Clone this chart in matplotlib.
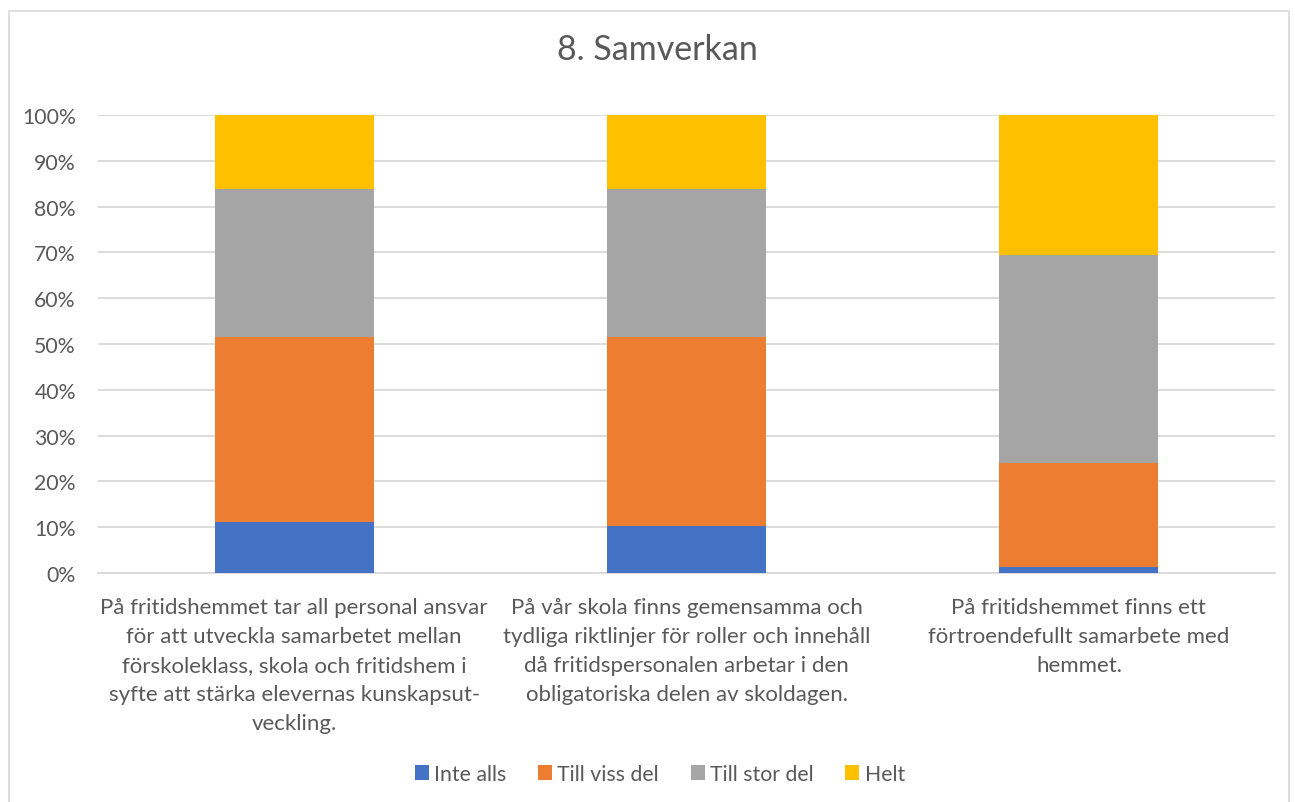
import matplotlib.pyplot as plt
from matplotlib.patches import Rectangle
import numpy as np

# ── Data ──────────────────────────────────────────────────────────────────────
title = "8. Samverkan"
categories = [
    "På fritidshemmet tar all personal ansvar\nför att utveckla samarbetet mellan\n"
    "förskoleklass, skola och fritidshem i\nsyfte att stärka elevernas kunskapsut-\nveckling.",
    "På vår skola finns gemensamma och\ntydliga riktlinjer för roller och innehåll\n"
    "då fritidspersonalen arbetar i den\nobligatoriska delen av skoldagen.",
    "På fritidshemmet finns ett\nförtroendefullt samarbete med\nhemmet.",
]
series_names = ["Inte alls", "Till viss del", "Till stor del", "Helt"]
inte_alls = [11.2, 10.3, 1.3]
till_viss_del = [40.4, 41.3, 22.8]
till_stor_del = [32.2, 32.2, 45.3]
helt = [16.2, 16.2, 30.6]
colors = ["#4472C4", "#ED7D31", "#A5A5A5", "#FFC000"]

# ── Style ─────────────────────────────────────────────────────────────────────
plt.rcParams['font.family'] = ['Lato', 'DejaVu Sans']
text_col = "#595959"
grid_col = "#D9D9D9"

fig = plt.figure(figsize=(12.95, 8.03), dpi=100)
ax = fig.add_axes([0.0757, 0.2852, 0.9089, 0.5703])

x = np.arange(len(categories))
bottom = np.zeros(len(categories))
for name, vals, col in zip(series_names, [inte_alls, till_viss_del, till_stor_del, helt], colors):
    ax.bar(x, vals, width=0.405, bottom=bottom, color=col, label=name, zorder=3)
    bottom += np.array(vals)

ax.set_xlim(-0.5, len(categories) - 0.5)
ax.set_ylim(0, 100)
ax.set_yticks(np.arange(0, 101, 10))
ax.set_yticklabels([f"{v}%" for v in range(0, 101, 10)], fontsize=15.3, color=text_col)
ax.set_xticks(x)
ax.set_xticklabels(categories, fontsize=16, color=text_col, linespacing=1.57, va="top")
ax.tick_params(axis="both", length=0)
ax.tick_params(axis="y", pad=16)
ax.tick_params(axis="x", pad=17)
ax.grid(axis="y", color=grid_col, linewidth=1.3, zorder=0)
for s in ["top", "right", "left"]:
    ax.spines[s].set_visible(False)
ax.spines["bottom"].set_color(grid_col)
ax.spines["bottom"].set_linewidth(1.3)

fig.text(0.5076, 0.938, title, ha="center", va="center", fontsize=24.5, color=text_col)

leg = fig.legend(loc="center", bbox_to_anchor=(0.5096, 0.035), ncol=4, frameon=False,
                 fontsize=15.3, handlelength=0.65, handleheight=0.65, handletextpad=0.25,
                 columnspacing=1.5)
for t in leg.get_texts():
    t.set_color(text_col)

# chart border
fig.patches.append(Rectangle((9 / 1295, -0.01), 1280 / 1295, 1 - 12 / 803 + 0.01,
                             transform=fig.transFigure, fill=False,
                             edgecolor=grid_col, linewidth=1.2))

fig.savefig("out.png", dpi=100, facecolor="white")
